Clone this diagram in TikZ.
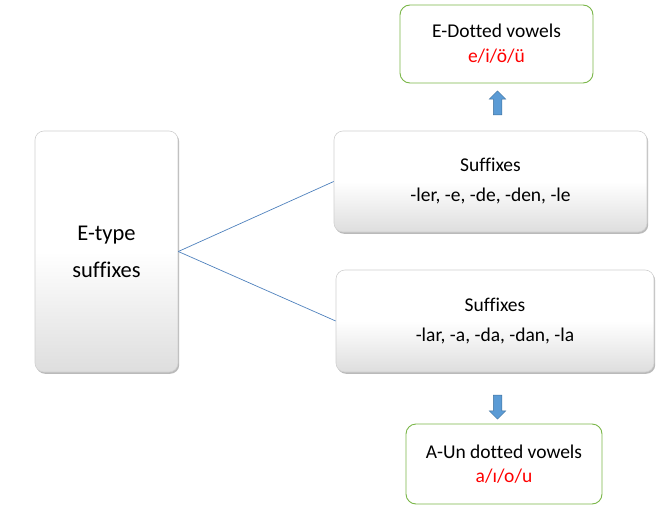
\documentclass[tikz,border=0pt]{standalone}
\usepackage{fontspec}
\setmainfont[Ligatures=CommonOff]{Carlito}
\usetikzlibrary{shadows,shapes.arrows}
\definecolor{boxline}{HTML}{D0D0D0}
\definecolor{greenline}{HTML}{7AB648}
\definecolor{conn}{HTML}{4F81BD}
\definecolor{arrowfill}{HTML}{5B9BD5}
\definecolor{arrowline}{HTML}{41719C}
\tikzset{
  graybox/.style={draw=boxline, line width=0.6pt, rounded corners=9pt,
    top color=white, bottom color=black!13, middle color=white,
    shading angle=0,
    drop shadow={shadow xshift=1.2pt, shadow yshift=-1.8pt, fill=black!45, opacity=0.6},
    align=center, inner sep=0pt},
  greenbox/.style={draw=greenline, line width=0.9pt, rounded corners=10pt, fill=white,
    align=center, inner sep=0pt},
  conline/.style={draw=conn, line width=0.7pt},
  blockarrow/.style={single arrow, draw=arrowline, fill=arrowfill, line width=0.5pt,
    inner sep=4pt, minimum height=24pt, single arrow head extend=4pt, anchor=center}
}
\begin{document}
\begin{tikzpicture}[x=1pt,y=-1pt]
\useasboundingbox (0,0) rectangle (672,519);
\node[graybox, minimum width=143pt, minimum height=241pt,
  font=\fontsize{22.5}{37}\selectfont] (etype) at (106.5,251.5) {E-type\\suffixes};
\node[graybox, minimum width=313pt, minimum height=101pt,
  font=\fontsize{19.5}{30}\selectfont] (sufe) at (490.5,181.5) {Suffixes\\-ler, -e, -de, -den, -le};
\node[graybox, minimum width=318pt, minimum height=102pt,
  font=\fontsize{19.5}{30}\selectfont] (sufa) at (495,321) {Suffixes\\-lar, -a, -da, -dan, -la};
\node[greenbox, minimum width=193pt, minimum height=78pt,
  font=\fontsize{19.5}{25}\selectfont] (edot) at (496.5,44) {E-Dotted vowels\\\textcolor{red}{e/i/ö/ü}};
\node[greenbox, minimum width=196pt, minimum height=80pt,
  font=\fontsize{19.5}{24}\selectfont] (aun) at (504,464) {A-Un dotted vowels\\\textcolor{red}{a/ı/o/u}};
\node[blockarrow, rotate=90] (up) at (497.5,105) {};
\node[blockarrow, rotate=-90] (down) at (497.5,405) {};
\draw[conline] (etype.east) -- (sufe.west);
\draw[conline] (etype.east) -- (sufa.west);
\end{tikzpicture}
\end{document}
